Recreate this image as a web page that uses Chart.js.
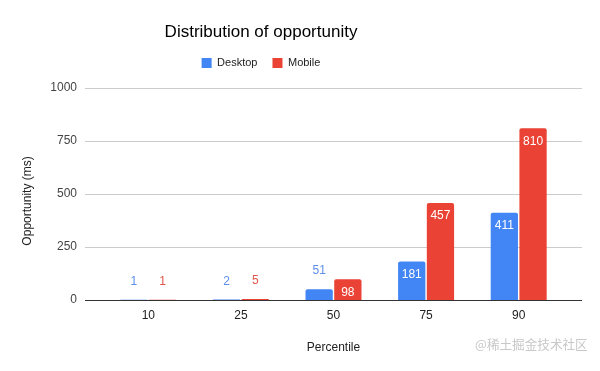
<!DOCTYPE html>
<html>
<head>
<meta charset="utf-8">
<script src="https://cdn.jsdelivr.net/npm/chart.js@4.4.0/dist/chart.umd.min.js"></script>
<style>
  body { margin: 0; background: #fff; }
  #wrap { position: relative; width: 600px; height: 371px; }
  #mark {
    position: absolute; left: 475px; top: 334px;
    font: 12.6px "Noto Sans CJK SC", sans-serif; color: #c8c8c8;
  }
</style>
</head>
<body>
<div id="wrap">
  <canvas id="chart" width="600" height="371"></canvas>
  <div id="mark">@稀土掘金技术社区</div>
</div>
<script>
// 数据
const percentiles = ['10', '25', '50', '75', '90'];
const desktopMs = [1, 2, 51, 181, 411];
const mobileMs = [1, 5, 98, 457, 810];
const yTicks = [0, 250, 500, 750, 1000];

const BLUE = '#4285F4';
const RED = '#EA4335';
const FONT = '"Liberation Sans", Arial, sans-serif';

// 标题和图例居中位置与绘图区不同，布局后再挪一下
const headerPlugin = {
    id: 'headerShift',
    afterLayout(chart) {
        const t = chart.titleBlock;
        t.left = 0; t.right = 522; t.width = 522;
        const lg = chart.legend;
        lg.left = 0; lg.right = 522; lg.width = 522;
        lg.top -= 9.5; lg.bottom -= 9.5;
        // y轴标题稍微往下
        const y = chart.scales.y;
        y.top += 7; y.bottom += 7;
    }
};

// 横向网格线，比绘图区略宽
const gridPlugin = {
    id: 'wideGrid',
    beforeDatasetsDraw(chart) {
        const ctx = chart.ctx;
        const y = chart.scales.y;
        const left = chart.chartArea.left - 17;
        const right = chart.chartArea.right + 17;
        ctx.save();
        yTicks.forEach(v => {
            const py = Math.round(y.getPixelForValue(v)) + 0.5;
            ctx.strokeStyle = v === 0 ? '#333333' : '#cccccc';
            ctx.lineWidth = 1;
            ctx.beginPath();
            ctx.moveTo(left, py);
            ctx.lineTo(right, py);
            ctx.stroke();
        });
        ctx.restore();
    }
};

// 柱子上的数值标签
const labelPlugin = {
    id: 'barLabels',
    afterDatasetsDraw(chart) {
        const ctx = chart.ctx;
        ctx.save();
        ctx.font = '12px ' + FONT;
        ctx.textAlign = 'center';
        ctx.textBaseline = 'middle';
        chart.data.datasets.forEach((ds, i) => {
            chart.getDatasetMeta(i).data.forEach((bar, j) => {
                const h = bar.base - bar.y;
                if (h > 16) {
                    ctx.fillStyle = '#ffffff';
                    ctx.fillText(ds.data[j], bar.x, bar.y + 13);
                } else {
                    ctx.fillStyle = ds.labelColor;
                    ctx.fillText(ds.data[j], bar.x, bar.y - 18);
                }
            });
        });
        ctx.restore();
    }
};

new Chart(document.getElementById('chart'), {
    type: 'bar',
    data: {
        labels: percentiles,
        datasets: [
            { label: 'Desktop', data: desktopMs, backgroundColor: BLUE, labelColor: '#5b8fe8' },
            { label: 'Mobile', data: mobileMs, backgroundColor: RED, labelColor: '#e2554a' }
        ]
    },
    options: {
        responsive: false,
        animation: false,
        layout: { padding: { left: 16, right: 35, top: 0, bottom: 0 } },
        datasets: {
            bar: { categoryPercentage: 0.62, barPercentage: 0.95, borderRadius: 2, borderSkipped: 'bottom' }
        },
        plugins: {
            title: {
                display: true,
                text: 'Distribution of opportunity',
                color: '#000',
                font: { family: FONT, size: 17, weight: 'normal' },
                padding: { top: 22, bottom: 9.5 }
            },
            legend: {
                labels: {
                    boxWidth: 10, boxHeight: 10, color: '#222',
                    font: { family: FONT, size: 11 }, padding: 15
                }
            },
            tooltip: { enabled: false }
        },
        scales: {
            x: {
                grid: { display: false },
                border: { display: false },
                ticks: { color: '#222', font: { family: FONT, size: 12 }, padding: 0 },
                title: { display: true, text: 'Percentile', color: '#222', font: { family: FONT, size: 12 }, padding: { top: 4, bottom: 16 } },
                afterFit(scale) { scale.height = 71; }
            },
            y: {
                min: 0, max: 1000,
                afterBuildTicks(scale) { scale.ticks = yTicks.map(v => ({ value: v })); },
                grid: { display: false },
                border: { display: false },
                ticks: {
                    color: '#444', font: { family: FONT, size: 12 }, padding: 17,
                    callback: v => String(v)
                },
                title: { display: true, text: 'Opportunity (ms)', color: '#222', font: { family: FONT, size: 12 } },
                afterFit(scale) { scale.width = 86; }
            }
        }
    },
    plugins: [headerPlugin, gridPlugin, labelPlugin]
});
</script>
</body>
</html>
